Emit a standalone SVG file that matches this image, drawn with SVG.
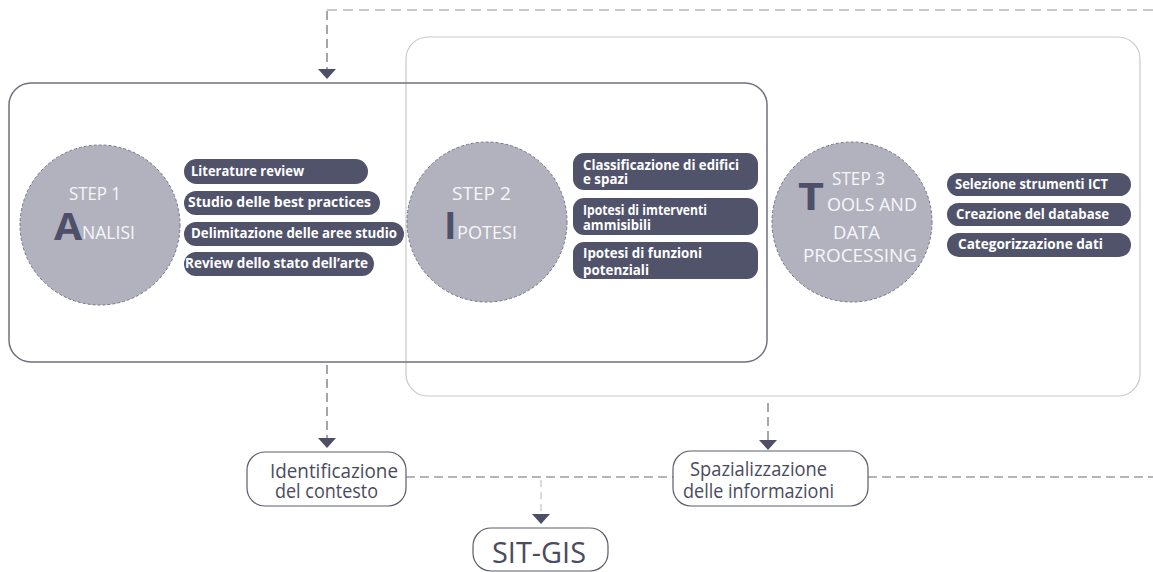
<svg xmlns="http://www.w3.org/2000/svg" width="1153" height="572" viewBox="0 0 1153 572">
<style>
  .frame1 { fill: none; stroke: #70707e; stroke-width: 1.5; }
  .frame2 { fill: none; stroke: #c9c9ce; stroke-width: 1.2; }
  .circle { fill: #b2b2be; stroke: #74748a; stroke-width: 1; stroke-dasharray: 3 2; }
  .pill { fill: #51536b; }
  .pt { font-family: "Open Sans", "DejaVu Sans", sans-serif; font-weight: 700; font-size: 14px; fill: #ffffff; }
  .st { font-family: "Open Sans", "DejaVu Sans", sans-serif; font-weight: 400; font-size: 18.5px; fill: #f6f6fa; }
  .big { font-family: "Open Sans", "DejaVu Sans", sans-serif; font-weight: 700; font-size: 38px; fill: #4e4f68; }
  .node { fill: #ffffff; stroke: #5c5c6c; stroke-width: 1.2; }
  .nt { font-family: "Open Sans", "DejaVu Sans", sans-serif; font-weight: 400; font-size: 19.5px; fill: #4a4b5e; }
  .sit { font-family: "Open Sans", "DejaVu Sans", sans-serif; font-weight: 500; font-size: 30px; fill: #4a4b5e; }
  .dlight { fill: none; stroke: #c8c8c8; stroke-width: 2; stroke-dasharray: 10 6; }
  .ddark { fill: none; stroke: #6a6a78; stroke-width: 1.2; stroke-dasharray: 9 5; }
  .dpale { fill: none; stroke: #c0c0c8; stroke-width: 1.2; stroke-dasharray: 7 5; }
  .head { fill: #4e4f66; }
</style>

<g id="frames">
  <rect id="frame-step3" class="frame2" x="406" y="37" width="734" height="359" rx="22"/>
  <rect id="frame-step12" class="frame1" x="9" y="83" width="758" height="279" rx="22"/>
</g>

<g id="connectors">
  <path class="dlight" d="M327,10 H1153"/>
  <path class="ddark" d="M327,11 V69"/>
  <polygon class="head" points="318,69 336,69 327,79"/>
  <path class="ddark" d="M327,365 V438"/>
  <polygon class="head" points="318,438 336,438 327,448"/>
  <path class="ddark" d="M768,403 V440"/>
  <polygon class="head" points="759,440 777,440 768,450"/>
  <path class="ddark" d="M406,477 H673"/>
  <path class="ddark" d="M868,477 H1153"/>
  <path class="dpale" d="M541,480 V514"/>
  <polygon class="head" points="532,514 550,514 541,524"/>
</g>

<g id="step1">
  <circle class="circle" cx="100" cy="225" r="80"/>
  <text class="st" x="69" y="200" textLength="52" lengthAdjust="spacingAndGlyphs">STEP 1</text>
  <text class="big" x="54" y="240" textLength="28" lengthAdjust="spacingAndGlyphs">A</text>
  <text class="st" x="82" y="239" textLength="53" lengthAdjust="spacingAndGlyphs">NALISI</text>
</g>
<g id="step1-items">
  <rect class="pill" x="184" y="159" width="184" height="25" rx="12.5"/>
  <text class="pt" x="191" y="176" textLength="113" lengthAdjust="spacingAndGlyphs">Literature review</text>
  <rect class="pill" x="184" y="191" width="196" height="24" rx="12"/>
  <text class="pt" x="188" y="207" textLength="183" lengthAdjust="spacingAndGlyphs">Studio delle best practices</text>
  <rect class="pill" x="184" y="222" width="220" height="24" rx="12"/>
  <text class="pt" x="191" y="238" textLength="206" lengthAdjust="spacingAndGlyphs">Delimitazione delle aree studio</text>
  <rect class="pill" x="184" y="252" width="190" height="24" rx="12"/>
  <text class="pt" x="185" y="268" textLength="183" lengthAdjust="spacingAndGlyphs">Review dello stato dell’arte</text>
</g>

<g id="step2">
  <circle class="circle" cx="487" cy="222" r="80"/>
  <text class="st" x="452" y="200" textLength="59" lengthAdjust="spacingAndGlyphs">STEP 2</text>
  <text class="big" x="444" y="239">I</text>
  <text class="st" x="457" y="239" textLength="60" lengthAdjust="spacingAndGlyphs">POTESI</text>
</g>
<g id="step2-items">
  <rect class="pill" x="573" y="153" width="185" height="37" rx="11"/>
  <text class="pt"><tspan x="583" y="170" textLength="156" lengthAdjust="spacingAndGlyphs">Classificazione di edifici</tspan><tspan x="583" y="184" textLength="45" lengthAdjust="spacingAndGlyphs">e spazi</tspan></text>
  <rect class="pill" x="573" y="198" width="185" height="37" rx="11"/>
  <text class="pt"><tspan x="583" y="215" textLength="124" lengthAdjust="spacingAndGlyphs">Ipotesi di imterventi</tspan><tspan x="583" y="230" textLength="68" lengthAdjust="spacingAndGlyphs">ammisibili</tspan></text>
  <rect class="pill" x="573" y="242" width="185" height="37" rx="11"/>
  <text class="pt"><tspan x="583" y="258" textLength="119" lengthAdjust="spacingAndGlyphs">Ipotesi di funzioni</tspan><tspan x="583" y="275" textLength="66" lengthAdjust="spacingAndGlyphs">potenziali</tspan></text>
</g>

<g id="step3">
  <circle class="circle" cx="852" cy="222" r="80"/>
  <text class="st" x="832" y="185" textLength="53" lengthAdjust="spacingAndGlyphs">STEP 3</text>
  <text class="big" x="798" y="210" textLength="26" lengthAdjust="spacingAndGlyphs">T</text>
  <text class="st"><tspan x="827" y="211" textLength="90" lengthAdjust="spacingAndGlyphs">OOLS AND</tspan><tspan x="833" y="239" textLength="47" lengthAdjust="spacingAndGlyphs">DATA</tspan><tspan x="803" y="262" textLength="114" lengthAdjust="spacingAndGlyphs">PROCESSING</tspan></text>
</g>
<g id="step3-items">
  <rect class="pill" x="947" y="173" width="184" height="23" rx="11.5"/>
  <text class="pt" x="955" y="189" textLength="153" lengthAdjust="spacingAndGlyphs">Selezione strumenti ICT</text>
  <rect class="pill" x="947" y="203" width="184" height="23" rx="11.5"/>
  <text class="pt" x="956" y="219" textLength="153" lengthAdjust="spacingAndGlyphs">Creazione del database</text>
  <rect class="pill" x="947" y="233" width="184" height="24" rx="12"/>
  <text class="pt" x="958" y="249" textLength="145" lengthAdjust="spacingAndGlyphs">Categorizzazione dati</text>
</g>

<g id="node-identificazione">
  <rect class="node" x="247" y="452" width="159" height="54" rx="18"/>
  <text class="nt"><tspan x="270" y="478" textLength="128" lengthAdjust="spacingAndGlyphs">Identificazione</tspan><tspan x="275" y="498" textLength="103" lengthAdjust="spacingAndGlyphs">del contesto</tspan></text>
</g>
<g id="node-spazializzazione">
  <rect class="node" x="673" y="451" width="195" height="55" rx="18"/>
  <text class="nt"><tspan x="690" y="476" textLength="137" lengthAdjust="spacingAndGlyphs">Spazializzazione</tspan><tspan x="683" y="498" textLength="151" lengthAdjust="spacingAndGlyphs">delle informazioni</tspan></text>
</g>
<g id="node-sitgis">
  <rect class="node" x="473" y="528" width="135" height="43" rx="18"/>
  <text class="sit" x="492" y="563" textLength="94" lengthAdjust="spacingAndGlyphs">SIT-GIS</text>
</g>
</svg>
